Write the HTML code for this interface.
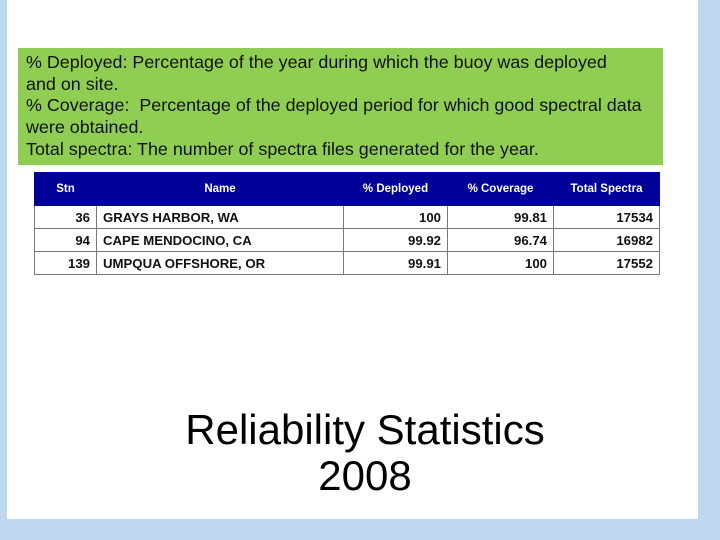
<!DOCTYPE html>
<html><head><meta charset="utf-8"><style>
body{margin:0;width:720px;height:540px;background:#bdd7ee;position:relative;overflow:hidden;font-family:"Liberation Sans",Arial,sans-serif}
#slide{position:absolute;left:7px;top:0;width:691px;height:519px;background:#fff}
#note{position:absolute;left:18px;top:48px;width:645px;height:117px;background:#8fce52;box-sizing:border-box;padding:4px 0 0 8px;font-size:17.9px;line-height:21.7px;color:#111;white-space:nowrap}
table{position:absolute;left:34px;top:172px;width:625px;border-collapse:collapse;font-size:13.2px;font-weight:bold;table-layout:fixed}
th{background:#000099;color:#fff;height:32px;font-size:11.5px;border:1px solid #000099;padding:0}
td{border:1px solid #777;height:22px;padding:0 6px;color:#111}
td.n{text-align:right}
#title{position:absolute;left:115px;top:407px;width:500px;text-align:center;font-size:42px;line-height:46px;color:#000}
</style></head><body>
<div id="slide"></div>
<div id="note">% Deployed: Percentage of the year during which the buoy was deployed<br>and on site.<br>% Coverage:&nbsp; Percentage of the deployed period for which good spectral data<br>were obtained.<br>Total spectra: The number of spectra files generated for the year.</div>
<table>
<colgroup><col style="width:62px"><col style="width:247px"><col style="width:104px"><col style="width:106px"><col style="width:106px"></colgroup>
<tr><th>Stn</th><th>Name</th><th>% Deployed</th><th>% Coverage</th><th>Total Spectra</th></tr>
<tr><td class="n">36</td><td>GRAYS HARBOR, WA</td><td class="n">100</td><td class="n">99.81</td><td class="n">17534</td></tr>
<tr><td class="n">94</td><td>CAPE MENDOCINO, CA</td><td class="n">99.92</td><td class="n">96.74</td><td class="n">16982</td></tr>
<tr><td class="n">139</td><td>UMPQUA OFFSHORE, OR</td><td class="n">99.91</td><td class="n">100</td><td class="n">17552</td></tr>
</table>
<div id="title">Reliability Statistics<br>2008</div>
</body></html>
